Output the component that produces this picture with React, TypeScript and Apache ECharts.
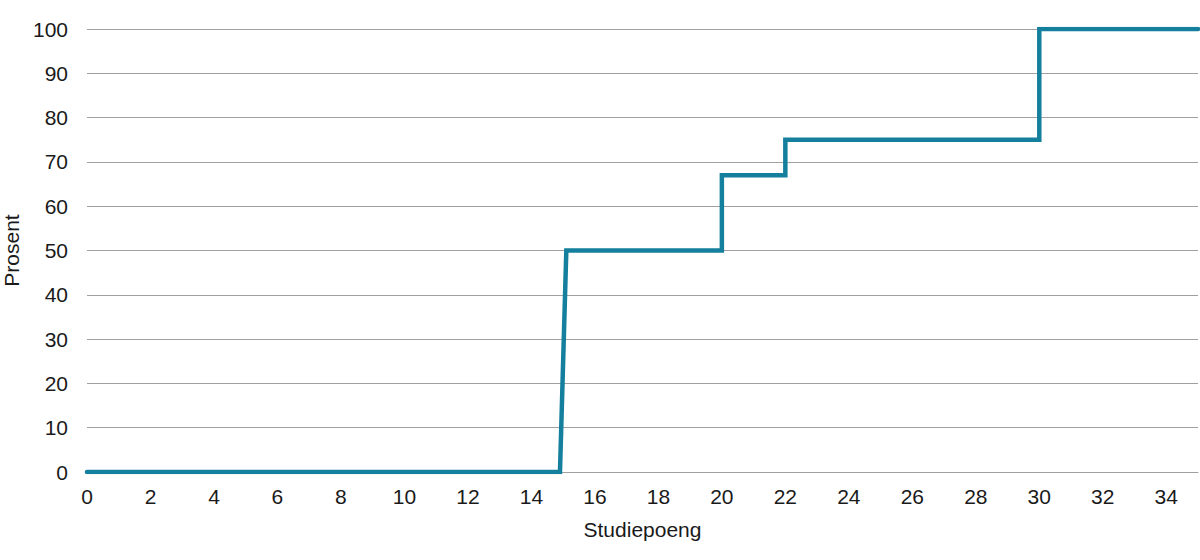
import React, { useEffect, useRef } from "react";
import * as echarts from "echarts";

const xValues = [0, 14.9, 15.1, 20, 20, 22, 22, 30, 30, 35];
const yValues = [0, 0, 50, 50, 67, 67, 75, 75, 100, 100];
const xAxisName = "Studiepoeng";
const yAxisName = "Prosent";

export default function App() {
  const ref = useRef<HTMLDivElement>(null);
  useEffect(() => {
    if (!ref.current) return;
    const chart = echarts.init(ref.current, null, { renderer: "svg" });
    const font = "'Liberation Sans', Arial, sans-serif";
    chart.setOption({
      animation: false,
      grid: { left: 87, right: 2, top: 29, bottom: 88, containLabel: false, outerBoundsMode: "none" },
      xAxis: {
        type: "value",
        min: 0,
        max: 35,
        interval: 2,
        name: xAxisName,
        nameLocation: "middle",
        nameGap: 47,
        nameTextStyle: { fontFamily: font, fontSize: 21, color: "#1a1a1a" },
        axisLine: { show: true, lineStyle: { color: "#a0a0a0", width: 1 } },
        axisTick: { show: false },
        splitLine: { show: false },
        axisLabel: {
          fontFamily: font,
          fontSize: 21,
          color: "#1a1a1a",
          margin: 14,
          showMaxLabel: false,
        },
      },
      yAxis: {
        type: "value",
        min: 0,
        max: 100,
        interval: 10,
        name: yAxisName,
        nameLocation: "middle",
        nameGap: 65,
        nameTextStyle: { fontFamily: font, fontSize: 21, color: "#1a1a1a" },
        axisLine: { show: false },
        axisTick: { show: false },
        splitLine: { show: true, lineStyle: { color: "#a0a0a0", width: 1 } },
        axisLabel: { fontFamily: font, fontSize: 21, color: "#1a1a1a", margin: 19 },
      },
      series: [
        {
          type: "line",
          data: xValues.map((x, i) => [x, yValues[i]]),
          showSymbol: false,
          symbol: "none",
          lineStyle: { color: "#157f9e", width: 4.5, cap: "round", join: "miter" },
        },
      ],
    });
    return () => chart.dispose();
  }, []);
  return (
    <div
      ref={ref}
      style={{ position: "absolute", left: 0, top: 0, width: 1200, height: 560, background: "#fff" }}
    />
  );
}
